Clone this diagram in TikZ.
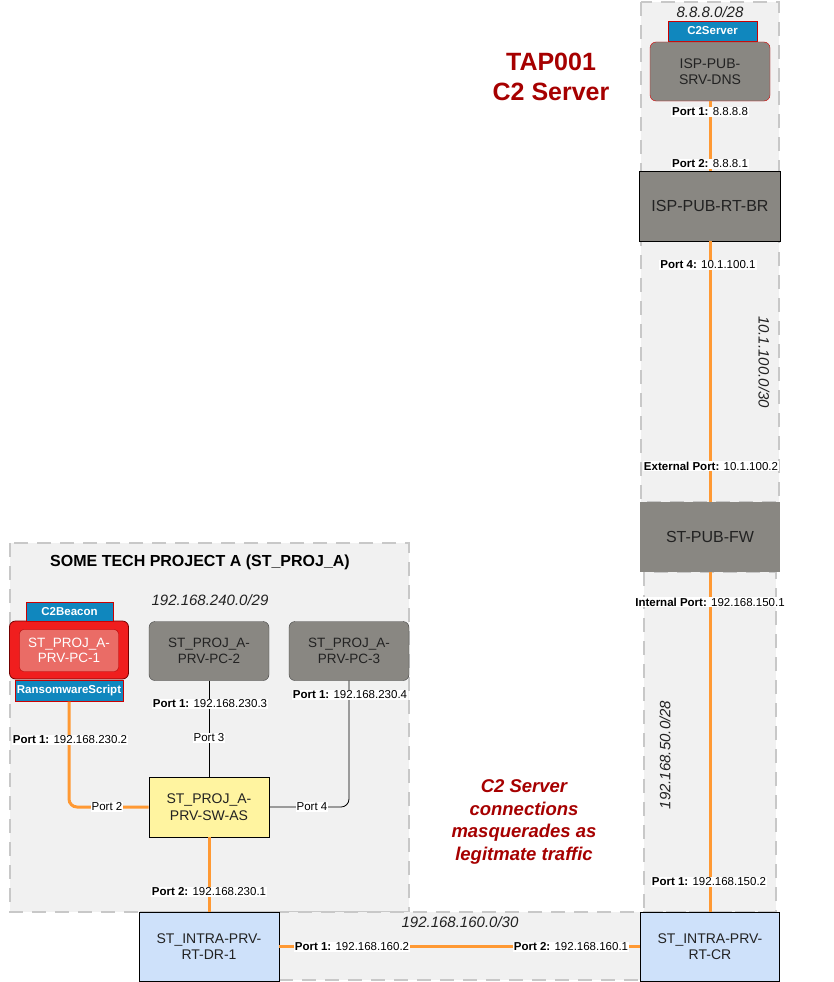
\documentclass[tikz,border=0pt]{standalone}
\usepackage{fontspec}
\setmainfont{Liberation Sans}

\definecolor{zonefill}{RGB}{241,241,241}
\definecolor{zoneline}{RGB}{200,200,200}
\definecolor{hostgray}{RGB}{137,135,130}
\definecolor{rtblue}{RGB}{206,225,250}
\definecolor{swyellow}{RGB}{255,244,160}
\definecolor{tagblue}{RGB}{16,135,190}
\definecolor{linkorange}{RGB}{255,153,51}
\definecolor{alertred}{RGB}{166,0,0}
\definecolor{beaconred}{RGB}{240,30,30}
\definecolor{beaconpink}{RGB}{234,108,102}
\definecolor{nodetext}{RGB}{34,34,34}

\tikzset{
  zonebox/.style={fill=zonefill, draw=zoneline, line width=2pt, dash pattern=on 14pt off 9pt},
  hostbox/.style={draw=black!75, fill=hostgray, rounded corners=6pt, inner sep=0pt, align=center,
    text=nodetext, font=\fontsize{13.5}{15.5}\selectfont},
  rtbox/.style={draw=black, line width=0.8pt, fill=rtblue, inner sep=0pt, align=center,
    text=nodetext, font=\fontsize{14}{16.5}\selectfont},
  tagbox/.style={draw=red!80!black, fill=tagblue, inner sep=0pt, text=white,
    font=\fontsize{11.5}{13}\selectfont\bfseries},
  portlbl/.style={fill=white, inner sep=1pt, text=black, font=\fontsize{11.5}{13}\selectfont},
  subnetlbl/.style={text=nodetext, font=\fontsize{15}{17}\selectfont\itshape},
  orangelink/.style={draw=linkorange, line width=3pt},
  blacklink/.style={draw=black, line width=0.8pt},
}

\begin{document}
\begin{tikzpicture}[x=1pt,y=-1pt]
\useasboundingbox (0,0) rectangle (834,982);

% zones
\draw[zonebox] (641,2) rectangle (779,502);
\draw[zonebox] (644,572) rectangle (776,912);
\draw[zonebox] (10,543) rectangle (409,912);
\draw[zonebox] (140,912) rectangle (779,980);

% texts
\node[text=alertred, align=center, font=\fontsize{25}{30}\selectfont\bfseries] (tap) at (551,77) {TAP001\\C2 Server};
\node[text=alertred, align=center, font=\fontsize{18.5}{22.5}\selectfont\bfseries\itshape] (note) at (524,822) {C2 Server\\connections\\masquerades as\\legitmate traffic};
\node[font=\fontsize{16}{18}\selectfont\bfseries] (projtitle) at (200,562) {SOME TECH PROJECT A (ST\_PROJ\_A)};
\node[subnetlbl] (net8) at (710,12) {8.8.8.0/28};
\node[subnetlbl, rotate=-90] (net10) at (764,362) {10.1.100.0/30};
\node[subnetlbl, rotate=90] (net50) at (665,755) {192.168.50.0/28};
\node[subnetlbl] (net160) at (460,922) {192.168.160.0/30};
\node[subnetlbl] (net240) at (210,600) {192.168.240.0/29};

% public side
\node[tagbox, minimum width=89pt, minimum height=20pt] (c2srv) at (712.5,31) {C2Server};
\node[hostbox, draw=red!85!black, minimum width=120pt, minimum height=59pt, font=\fontsize{14}{16.5}\selectfont] (dns) at (710,71.5) {ISP-PUB-\\SRV-DNS};
\node[hostbox, draw=black, line width=0.8pt, rounded corners=0pt, minimum width=141pt, minimum height=70pt, font=\fontsize{16}{18}\selectfont] (rtbr) at (710,206) {ISP-PUB-RT-BR};
\node[hostbox, draw=none, rounded corners=0pt, minimum width=140pt, minimum height=70pt, font=\fontsize{16}{18}\selectfont] (fw) at (710,537) {ST-PUB-FW};
\node[rtbox, minimum width=139pt, minimum height=69pt] (cr) at (710,946.5) {ST\_INTRA-PRV-\\RT-CR};
\node[rtbox, minimum width=140pt, minimum height=69pt] (dr) at (209,946.5) {ST\_INTRA-PRV-\\RT-DR-1};

% project A
\node[rtbox, fill=swyellow, minimum width=120pt, minimum height=60pt] (sw) at (209,807) {ST\_PROJ\_A-\\PRV-SW-AS};
\node[hostbox, minimum width=120pt, minimum height=59pt] (pc2) at (209,651) {ST\_PROJ\_A-\\PRV-PC-2};
\node[hostbox, minimum width=120pt, minimum height=59pt] (pc3) at (349,651) {ST\_PROJ\_A-\\PRV-PC-3};
\node[draw=red!45!black, line width=0.8pt, fill=beaconred, rounded corners=6pt, minimum width=119pt, minimum height=58pt] (pc1) at (69,650) {};
\node[hostbox, draw=red!70!black, fill=beaconpink, text=white, rounded corners=4pt, minimum width=99pt, minimum height=42pt] (pc1in) at (69,650.5) {ST\_PROJ\_A-\\PRV-PC-1};
\node[tagbox, minimum width=87pt, minimum height=19pt] (beacon) at (69.5,611.5) {C2Beacon};
\node[tagbox, minimum width=108pt, minimum height=21pt] (ransom) at (69,691) {RansomwareScript};

% links
\draw[orangelink] (dns) -- (rtbr);
\draw[orangelink] (rtbr) -- (fw);
\draw[orangelink] (fw) -- (cr);
\draw[orangelink] (dr) -- (cr);
\draw[orangelink] (sw) -- (dr);
\draw[orangelink, rounded corners=8pt] (ransom.south) |- (sw.west);
\draw[blacklink] (pc2) -- (sw);
\draw[blacklink, rounded corners=8pt] (pc3.south) |- (sw.east);

% port labels
\node[portlbl] (p1dns) at (710,112) {\textbf{Port 1:} 8.8.8.8};
\node[portlbl] (p2br) at (710,164) {\textbf{Port 2:} 8.8.8.1};
\node[portlbl] (p4br) at (708,265) {\textbf{Port 4:} 10.1.100.1};
\node[portlbl] (extfw) at (711,466) {\textbf{External Port:} 10.1.100.2};
\node[portlbl] (intfw) at (710,602) {\textbf{Internal Port:} 192.168.150.1};
\node[portlbl] (p1cr) at (709,882) {\textbf{Port 1:} 192.168.150.2};
\node[portlbl] (p2cr) at (571,947) {\textbf{Port 2:} 192.168.160.1};
\node[portlbl] (p1dr) at (352,947) {\textbf{Port 1:} 192.168.160.2};
\node[portlbl] (p2dr) at (209,892) {\textbf{Port 2:} 192.168.230.1};
\node[portlbl] (p1pc1) at (70,740) {\textbf{Port 1:} 192.168.230.2};
\node[portlbl] (p1pc2) at (210,704) {\textbf{Port 1:} 192.168.230.3};
\node[portlbl] (p1pc3) at (350,695) {\textbf{Port 1:} 192.168.230.4};
\node[portlbl] (p2sw) at (107,807) {Port 2};
\node[portlbl] (p3sw) at (209,738) {Port 3};
\node[portlbl] (p4sw) at (312,807) {Port 4};
\end{tikzpicture}
\end{document}
